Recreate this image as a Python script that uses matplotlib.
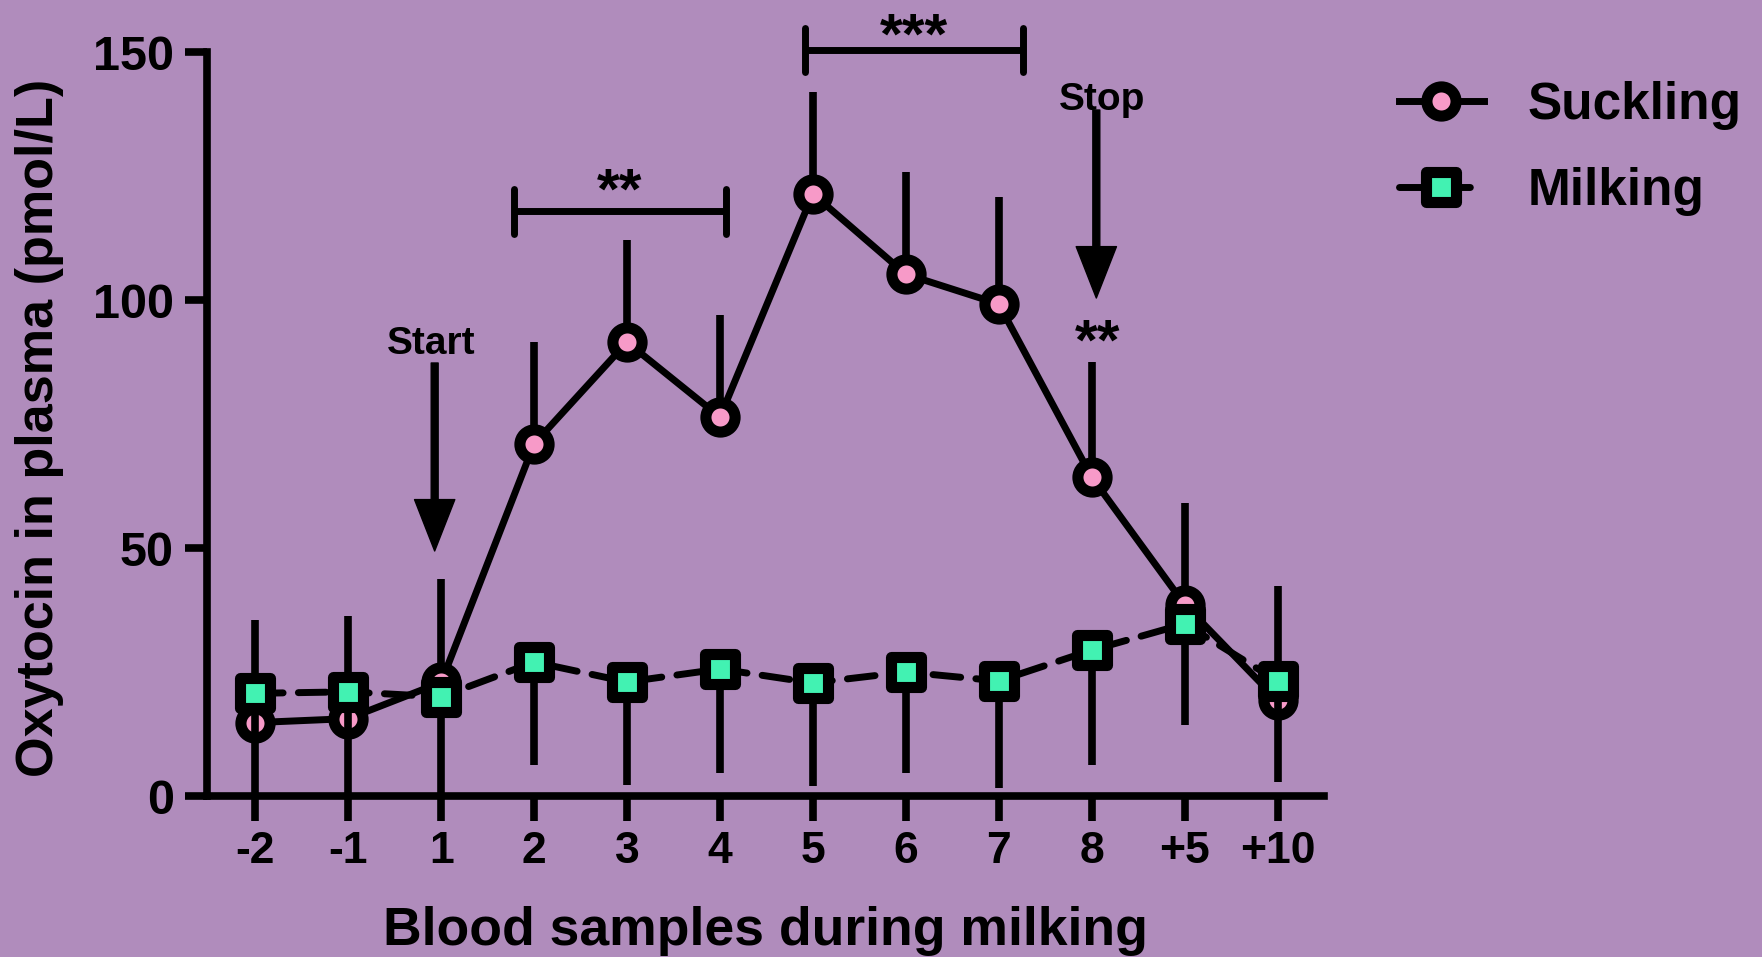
import matplotlib.pyplot as plt
from matplotlib.markers import MarkerStyle

# data
samples = ['-2', '-1', '1', '2', '3', '4', '5', '6', '7', '8', '+5', '+10']
suckling = [14.8, 15.6, 22.9, 71.0, 91.5, 76.4, 121.4, 105.2, 99.2, 64.3, 38.6, 19.3]
suckling_err = [20.7, 20.7, 20.9, 20.5, 20.6, 20.6, 20.5, 20.6, 21.6, 23.2, 20.5, 23.0]
milking = [20.7, 21.0, 20.0, 27.0, 23.0, 25.6, 22.8, 25.0, 23.2, 29.4, 34.7, 23.2]
milking_err = [20.8, 20.8, 20.8, 20.8, 20.8, 20.9, 20.8, 20.4, 21.6, 23.2, 20.4, 20.4]

bg = '#b08cbc'
pink = '#f79ac8'
green = '#42f2b2'

plt.rcParams['font.family'] = ['Liberation Sans', 'DejaVu Sans']
plt.rcParams['font.weight'] = 'bold'
plt.rcParams['axes.labelweight'] = 'bold'

fig = plt.figure(figsize=(17.62, 9.57), dpi=100, facecolor=bg)
ax = fig.add_axes([207 / 1762, 1 - 796 / 957, 1117 / 1762, 744 / 957])
ax.set_facecolor(bg)

x = list(range(len(samples)))
zeros = [0] * len(x)

# suckling: error bars above only
ax.errorbar(x, suckling, yerr=[zeros, suckling_err], fmt='none', ecolor='black',
            elinewidth=5.5, capsize=0, zorder=2)
ax.plot(x, suckling, '-', color='black', lw=5, marker='o', ms=21, mew=8,
        mfc=pink, mec='black', solid_joinstyle='round', label='Suckling', zorder=3)

# milking: error bars below only
ax.errorbar(x, milking, yerr=[milking_err, zeros], fmt='none', ecolor='black',
            elinewidth=5.5, capsize=0, zorder=4)
sq = MarkerStyle('s', joinstyle='round')
ax.plot(x, milking, color='black', lw=5, dashes=(4, 2.2), dash_capstyle='round',
        marker=sq, ms=21.5, mew=8, mfc=green, mec='black', label='Milking', zorder=5)

ax.set_xlim(-0.52, 11.5)
ax.set_ylim(0, 150)
ax.set_yticks([0, 50, 100, 150])
ax.set_xticks(x)
ax.set_xticklabels(samples)
for s in ['top', 'right']:
    ax.spines[s].set_visible(False)
for s in ['left', 'bottom']:
    ax.spines[s].set_linewidth(5.5)
    ax.spines[s].set_capstyle('projecting')
ax.tick_params(axis='y', length=16, width=5.5, pad=8, labelsize=35)
ax.tick_params(axis='x', length=18, width=5.5, pad=7, labelsize=32)

ax.set_xlabel('Blood samples during milking', fontsize=38.5)
ax.xaxis.set_label_coords(0.5, -0.2)
ax.xaxis.label.set_va('baseline')
ax.set_ylabel('Oxytocin in plasma (pmol/L)', fontsize=37.5)
ax.yaxis.set_label_coords(-0.150, 0.495)
ax.yaxis.label.set_va('center')

# start / stop arrows
arrow = dict(facecolor='black', edgecolor='black', width=5, headwidth=29,
             headlength=37, shrink=0)
ax.annotate('', xy=(1.93, 49.4), xytext=(1.93, 87.3), arrowprops=arrow,
            annotation_clip=False)
ax.text(1.89, 89.1, 'Start', ha='center', va='baseline', fontsize=28)
ax.annotate('', xy=(9.05, 100.4), xytext=(9.05, 138.3), arrowprops=arrow,
            annotation_clip=False)
ax.text(9.11, 138.3, 'Stop', ha='center', va='baseline', fontsize=28)
ax.text(9.06, 88.0, '**', ha='center', va='baseline', fontsize=42)

# significance brackets
for x1, x2, y, label, dy in [(2.78, 5.06, 117.9, '**', 0.0), (5.91, 8.26, 150.4, '***', -1.2)]:
    ax.plot([x1, x2], [y, y], color='black', lw=5, clip_on=False, solid_capstyle='butt')
    for xe in (x1, x2):
        ax.plot([xe, xe], [y - 4.5, y + 4.5], color='black', lw=5, clip_on=False,
                solid_capstyle='round')
    ax.text((x1 + x2) / 2, y + 0.5 + dy, label, ha='center', va='baseline', fontsize=42,
            clip_on=False)

fig.legend(loc='upper left', bbox_to_anchor=(1399 / 1762, 1 - 81 / 957), frameon=False,
           fontsize=37, handlelength=1.65, handletextpad=0.85, labelspacing=0.72,
           borderpad=0, borderaxespad=0)

fig.savefig('out.png', dpi=100, facecolor=bg)
